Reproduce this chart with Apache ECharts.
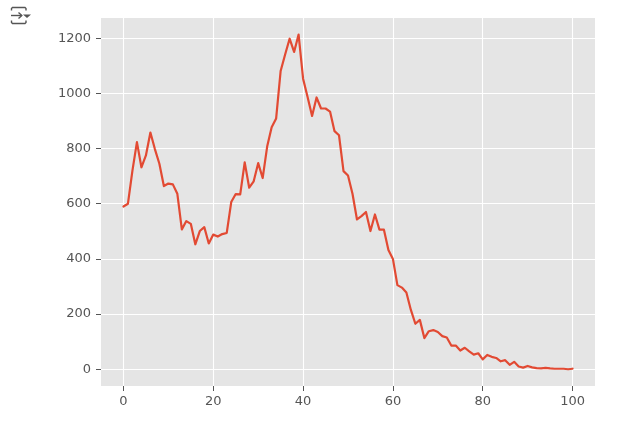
<!DOCTYPE html>
<html>
<head>
<meta charset="utf-8">
<style>html,body{margin:0;padding:0;background:#fff}#c{width:628px;height:428px}</style>
<script src="https://cdn.jsdelivr.net/npm/echarts@6/dist/echarts.min.js"></script>
</head>
<body>
<div id="c"></div>
<script>
const values = [590,600,720,823,732,775,858,798,745,664,
673,670,636,507,537,527,453,501,515,456,
488,481,490,494,606,635,634,750,658,681,
747,693,807,877,909,1081,1141,1198,1150,1213,
1053,987,918,985,945,945,934,863,848,718,
702,636,543,555,570,501,561,506,506,432,
400,305,296,278,215,165,179,113,138,142,
135,120,115,86,86,68,78,65,53,58,
36,52,45,41,29,33,16,27,10,6,
12,7,4,3,5,3,2,2,2,0,2];
const xTicks = [0,20,40,60,80,100];
const yTicks = [0,200,400,600,800,1000,1200];
const points = values.map((v,i)=>[i,v]);
const chart = echarts.init(document.getElementById('c'), null, {renderer:'canvas'});
const axisCommon = {
  scale:true,
  axisLine:{show:false,onZero:false},
  axisTick:{show:true,length:5,inside:false,lineStyle:{color:'#555555',width:1}},
  axisLabel:{color:'#555555',fontFamily:'DejaVu Sans',fontSize:13,margin:9,hideOverlap:false,showMinLabel:true,showMaxLabel:true,formatter:v=>String(v)},
  splitLine:{show:true,lineStyle:{color:'#ffffff',width:1.1,type:'solid'}}
};
const iconStyle = {fill:null,stroke:'#555555',lineWidth:1.4};
chart.setOption({
  animation:false,
  backgroundColor:'#ffffff',
  grid:{left:101,right:33,top:18,bottom:42,show:true,backgroundColor:'#E5E5E5',borderWidth:0},
  xAxis:{...axisCommon,type:'value',min:-5,max:105,
    axisTick:{...axisCommon.axisTick,customValues:xTicks},
    axisLabel:{...axisCommon.axisLabel,customValues:xTicks}},
  yAxis:{...axisCommon,type:'value',min:-60.6,max:1273,
    axisTick:{...axisCommon.axisTick,customValues:yTicks},
    axisLabel:{...axisCommon.axisLabel,margin:10,customValues:yTicks}},
  series:[{type:'line',data:points,showSymbol:false,smooth:false,
    lineStyle:{color:'#E24A33',width:2.2,join:'round',cap:'round'},itemStyle:{color:'#E24A33'}}],
  graphic:[
    {type:'polyline',shape:{points:[[11.5,10.5],[11.5,8.5],[12.5,7.5],[25,7.5],[26,8.5],[26,10.5]]},style:iconStyle},
    {type:'polyline',shape:{points:[[11.5,20.5],[11.5,22.5],[12.5,23.5],[25,23.5],[26,22.5],[26,20.5]]},style:iconStyle},
    {type:'polyline',shape:{points:[[11,15.5],[21.5,15.5]]},style:iconStyle},
    {type:'polyline',shape:{points:[[18.5,12.5],[21.8,15.5],[18.5,18.5]]},style:iconStyle},
    {type:'polygon',shape:{points:[[23,14.5],[31,14.5],[27,18]]},style:{fill:'#555555'}}
  ]
});
</script>
</body>
</html>
